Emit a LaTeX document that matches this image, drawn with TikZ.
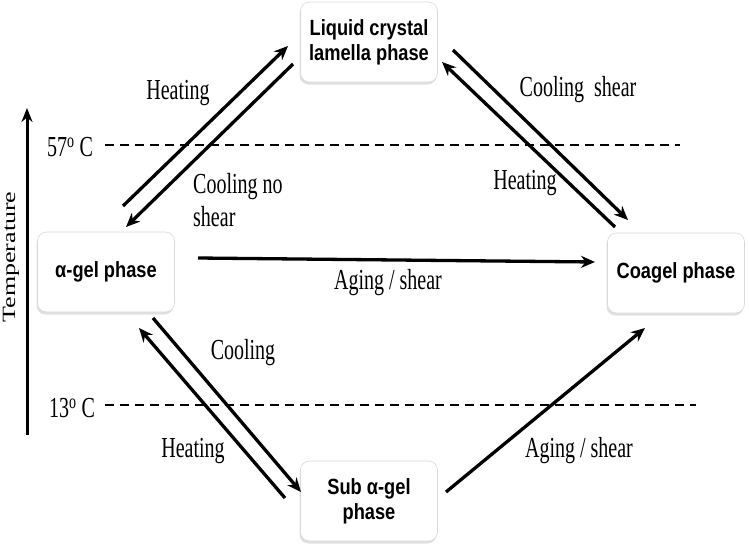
\documentclass[tikz,border=0pt]{standalone}
\usepackage{fontspec}
\usetikzlibrary{arrows.meta,shadows}
\newfontfamily\serf{Liberation Serif}[FakeStretch=0.69]
\newfontfamily\serfn{Liberation Serif}
\newfontfamily\boxf{Liberation Sans}[FakeStretch=0.83]
\begin{document}
\begin{tikzpicture}[x=1pt,y=-1pt,
  phase/.style={draw=gray!30, line width=0.6pt, fill=white, rounded corners=9pt,
    minimum width=137pt, minimum height=80pt, align=center,
    font=\boxf\bfseries\fontsize{22}{25}\selectfont,
    drop shadow={shadow xshift=-1pt, shadow yshift=-2.5pt, opacity=0.35, fill=gray!70}},
  lbl/.style={font=\serf\fontsize{29}{29}\selectfont, inner sep=0pt, align=left},
  arr/.style={line width=3.3pt, -{Stealth[length=14pt,width=12pt]}},
  dline/.style={line width=1.9pt, dash pattern=on 9pt off 6pt}]
\useasboundingbox (0,0) rectangle (749,551);

\node[phase] (lc) at (369,42) {Liquid crystal\\lamella phase};
\node[phase] (ag) at (106,272) {α-gel phase};
\node[phase] (co) at (676,273) {Coagel phase};
\node[phase] (sub) at (369,501) {Sub α-gel\\phase};

% temperature axis
\coordinate (tb) at (27,435);
\coordinate (tt) at (27,108);
\draw[line width=3pt, -{Stealth[length=14pt,width=11pt]}] (tb) -- (tt);
\node (temp) at (11,257) {\rotatebox{90}{\scalebox{1}[0.72]{\serfn\fontsize{26}{26}\selectfont Temperature}}};

% dashed lines
\coordinate (d1a) at (105,145); \coordinate (d1b) at (680,145);
\coordinate (d2a) at (105,405); \coordinate (d2b) at (696,405);
\draw[dline] (d1a) -- (d1b);
\draw[dline] (d2a) -- (d2b);
\node[lbl] (t57) at (70,147) {57\textsuperscript{o}\,C};
\node[lbl] (t13) at (72,408) {13\textsuperscript{o}\,C};

% arrows alpha-gel <-> LC
\coordinate (a1s) at (123,206); \coordinate (a1e) at (288,46);
\coordinate (a2s) at (293,64);  \coordinate (a2e) at (126,227);
\draw[arr] (a1s) -- (a1e);
\draw[arr] (a2s) -- (a2e);
\node[lbl] (h1) at (178,93) {Heating};
\node[lbl, anchor=west] (c1) at (193,187) {Cooling no};
\node[lbl, anchor=west] (c1b) at (193,217) {shear};

% LC <-> coagel
\coordinate (b1s) at (453,50);  \coordinate (b1e) at (628,220);
\coordinate (b2s) at (615,227); \coordinate (b2e) at (442,62);
\draw[arr] (b1s) -- (b1e);
\draw[arr] (b2s) -- (b2e);
\node[lbl] (c2) at (578,90) {Cooling\ \ shear};
\node[lbl] (h2) at (525,183) {Heating};

% alpha-gel -> coagel
\coordinate (hs) at (198,258); \coordinate (he) at (595,262);
\draw[arr] (hs) -- (he);
\node[lbl] (ag1) at (388,283) {Aging / shear};

% alpha-gel <-> sub
\coordinate (e1s) at (153,318); \coordinate (e1e) at (301,492);
\coordinate (e2s) at (285,498); \coordinate (e2e) at (139,328);
\draw[arr] (e1s) -- (e1e);
\draw[arr] (e2s) -- (e2e);
\node[lbl] (c3) at (243,353) {Cooling};
\node[lbl] (h3) at (193,451) {Heating};

% sub -> coagel
\coordinate (fs) at (446,492); \coordinate (fe) at (645,328);
\draw[arr] (fs) -- (fe);
\node[lbl] (ag2) at (579,451) {Aging / shear};
\end{tikzpicture}
\end{document}
